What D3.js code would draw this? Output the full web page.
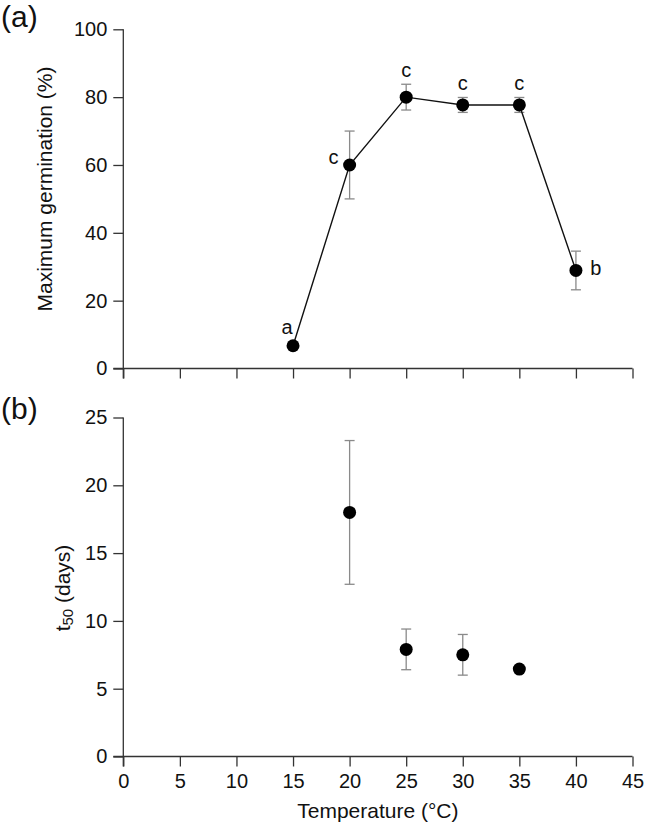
<!DOCTYPE html>
<html>
<head>
<meta charset="utf-8">
<script src="https://cdn.jsdelivr.net/npm/d3@7"></script>
<style>
  body { margin: 0; background: #fff; }
  svg { font-family: "Liberation Sans", Arial, sans-serif; }
</style>
</head>
<body>
<div id="chart"></div>
<script>
// data
const temps = [15, 20, 25, 30, 35, 40];
const germination = [6.7, 60, 80, 77.7, 77.7, 28.9];
const germinationErr = [0, 10, 3.8, 2.2, 2.2, 5.7];
const letters = ['a', 'c', 'c', 'c', 'c', 'b'];

const t50Temps = [20, 25, 30, 35];
const t50 = [18.0, 7.9, 7.5, 6.45];
const t50Err = [5.3, 1.5, 1.5, 0];

const xTicks = [0, 5, 10, 15, 20, 25, 30, 35, 40, 45];
const germTicks = [0, 20, 40, 60, 80, 100];
const t50Ticks = [0, 5, 10, 15, 20, 25];

const width = 646;
const height = 832;
const left = 123.3, right = 632.5;
const tick = 10;
const axisColor = "#333";
const fontSize = "20px";

const svg = d3.select("#chart")
    .append("svg")
    .attr("width", width)
    .attr("height", height);

const x = d3.scaleLinear().domain([0, 45]).range([left, right]);

// draw one panel: y scale, axes and the extended axis lines
function panel(yDomain, yRange, yTicks, showXLabels) {
    const y = d3.scaleLinear().domain(yDomain).range(yRange);
    const g = svg.append("g");

    const xAxis = d3.axisBottom(x)
        .tickValues(xTicks)
        .tickSize(tick)
        .tickSizeOuter(0)
        .tickPadding(5)
        .tickFormat(showXLabels ? d3.format("d") : "");
    const xg = g.append("g")
        .attr("transform", `translate(0,${yRange[0]})`)
        .call(xAxis);

    const yAxis = d3.axisLeft(y)
        .tickValues(yTicks)
        .tickSize(tick)
        .tickSizeOuter(0)
        .tickPadding(6);
    const yg = g.append("g")
        .attr("transform", `translate(${left},0)`)
        .call(yAxis);

    [xg, yg].forEach(a => {
        a.select(".domain").remove();
        a.selectAll("line").attr("stroke", axisColor).attr("stroke-width", 1.3);
        a.selectAll("text")
            .attr("fill", "#111")
            .style("font-size", fontSize);
    });
    xg.selectAll("text").attr("dy", "0.82em");

    // axis lines crossing each other like the original
    g.append("line")
        .attr("x1", left - tick).attr("x2", right)
        .attr("y1", yRange[0]).attr("y2", yRange[0])
        .attr("stroke", axisColor).attr("stroke-width", 1.3);
    g.append("line")
        .attr("x1", left).attr("x2", left)
        .attr("y1", yRange[1]).attr("y2", yRange[0] + tick)
        .attr("stroke", axisColor).attr("stroke-width", 1.3);

    return y;
}

function errorBars(xs, ys, errs, y) {
    const cap = 5;
    xs.forEach((t, i) => {
        if (!errs[i]) return;
        const cx = x(t);
        const y1 = y(ys[i] + errs[i]);
        const y2 = y(ys[i] - errs[i]);
        const g = svg.append("g")
            .attr("stroke", "#8a8a8a")
            .attr("stroke-width", 1.3);
        g.append("line").attr("x1", cx).attr("x2", cx).attr("y1", y1).attr("y2", y2);
        g.append("line").attr("x1", cx - cap).attr("x2", cx + cap).attr("y1", y1).attr("y2", y1);
        g.append("line").attr("x1", cx - cap).attr("x2", cx + cap).attr("y1", y2).attr("y2", y2);
    });
}

function dots(xs, ys, y) {
    svg.append("g")
        .selectAll("circle")
        .data(xs)
        .enter()
        .append("circle")
        .attr("cx", d => x(d))
        .attr("cy", (d, i) => y(ys[i]))
        .attr("r", 6.5)
        .attr("fill", "#000");
}

// ---- panel (a)
const yA = panel([0, 100], [368.5, 29.3], germTicks, false);

errorBars(temps, germination, germinationErr, yA);

svg.append("path")
    .datum(temps)
    .attr("fill", "none")
    .attr("stroke", "#111")
    .attr("stroke-width", 1.4)
    .attr("d", d3.line()
        .x(d => x(d))
        .y((d, i) => yA(germination[i])));

dots(temps, germination, yA);

// significance letters
svg.append("g")
    .selectAll("text")
    .data(letters)
    .enter()
    .append("text")
    .attr("x", (d, i) => {
        const cx = x(temps[i]);
        if (i === 0) return cx - 6;
        if (i === 1) return cx - 16;
        if (i === letters.length - 1) return cx + 20;
        return cx;
    })
    .attr("y", (d, i) => {
        const top = yA(germination[i] + germinationErr[i]);
        if (i === 0) return top - 19;
        if (i === 1) return yA(germination[i]) - 8;
        if (i === letters.length - 1) return yA(germination[i]) - 2;
        return top - 14;
    })
    .attr("text-anchor", "middle")
    .attr("dominant-baseline", "central")
    .style("font-size", fontSize)
    .attr("fill", "#111")
    .text(d => d);

svg.append("text")
    .attr("transform", `translate(44,189) rotate(-90)`)
    .attr("text-anchor", "middle")
    .attr("dominant-baseline", "central")
    .style("font-size", "21px")
    .attr("fill", "#111")
    .text("Maximum germination (%)");

svg.append("text")
    .attr("x", 1).attr("y", 27)
    .style("font-size", "30px")
    .attr("fill", "#111")
    .text("(a)");

// ---- panel (b)
const yB = panel([0, 25], [756.5, 417.5], t50Ticks, true);

errorBars(t50Temps, t50, t50Err, yB);
dots(t50Temps, t50, yB);

const t50Label = svg.append("text")
    .attr("transform", `translate(62,588) rotate(-90)`)
    .attr("text-anchor", "middle")
    .attr("dominant-baseline", "central")
    .style("font-size", "21px")
    .attr("fill", "#111");
t50Label.append("tspan").text("t");
t50Label.append("tspan").attr("dy", 5).style("font-size", "15px").text("50");
t50Label.append("tspan").attr("dy", -5).text(" (days)");

svg.append("text")
    .attr("x", 1).attr("y", 419)
    .style("font-size", "30px")
    .attr("fill", "#111")
    .text("(b)");

svg.append("text")
    .attr("x", (left + right) / 2).attr("y", 818)
    .attr("text-anchor", "middle")
    .style("font-size", "21px")
    .attr("fill", "#111")
    .text("Temperature (°C)");
</script>
</body>
</html>
